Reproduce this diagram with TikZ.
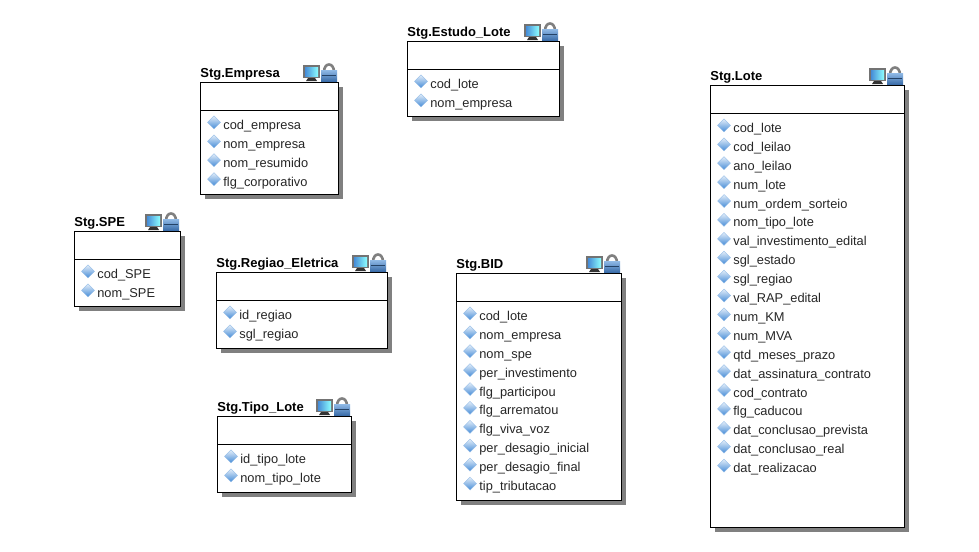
\documentclass[tikz,border=0pt]{standalone}
\usepackage{fontspec}
\setmainfont{Liberation Sans}
\usetikzlibrary{calc, positioning, shapes.geometric, shadows}
\definecolor{iconblue}{RGB}{70,140,215}
\definecolor{lockblue}{RGB}{60,110,170}
\tikzset{
  stgbox/.style={draw, fill=white, line width=0.45pt, anchor=north west, inner sep=0pt, outer sep=0pt,
    drop shadow={shadow xshift=0.1cm, shadow yshift=-0.1cm, fill=black!50, opacity=1}},
  stgtitle/.style={anchor=base west, inner sep=0pt, font=\bfseries\fontsize{7.4pt}{9pt}\selectfont},
  rowmark/.style={diamond, inner sep=0pt, outer sep=0pt, minimum size=0.26cm, draw=iconblue!60,
    line width=0.2pt, top color=iconblue!15, bottom color=iconblue},
  rowtext/.style={anchor=west, inner sep=0pt, yshift=-0.07cm, text height=5.5pt, text depth=1.5pt,
    text=black!85, font=\fontsize{7.3pt}{9pt}\selectfont},
  stgicons/.pic={
    \fill[black!80] (-32,-1) -- (-30,-4) -- (-23,-4) -- (-21,-1) -- cycle;
    \fill[black!55] (-35,-17) rectangle (-18,-4);
    \shade[left color=iconblue, right color=cyan!45] (-33,-15) rectangle (-20,-6);
    \draw[black!50, line width=1.5pt] (-14,-10) .. controls (-14,-20) and (-4,-20) .. (-4,-10);
    \shade[top color=iconblue!60, bottom color=lockblue] (-17,-12) rectangle (-1,-1);
    \fill[lockblue!60!black] (-16,-7.5) rectangle (-2,-6);
  }
}
% name, x, y, width, height, title, rows
\newcommand{\stgtable}[7]{
  \node (#1) [stgbox, minimum width=#4*0.02cm, minimum height=#5*0.02cm] at (#2,#3) {};
  \node (#1title) [stgtitle] at ($(#1.north west)+(0,-5)$) {#6};
  \draw[line width=0.45pt] ($(#1.north west)+(0,28)$) -- ($(#1.north east)+(0,28)$);
  \pic at (#1.north east) {stgicons};
  \foreach \rowname [count=\i] in {#7} {
    \node (#1mark\i) [rowmark] at ($(#1.north west)+(14,21.5+\i*18.9)$) {};
    \node (#1row\i) [rowtext, right=0.05cm of #1mark\i] {\rowname};
  }
}

\begin{document}
\begin{tikzpicture}[x=0.02cm, y=-0.02cm]
\useasboundingbox (0,0) rectangle (979,551);

\stgtable{Empresa}{200}{82}{138}{112}{Stg.Empresa}{cod\_empresa, nom\_empresa, nom\_resumido, flg\_corporativo}
\stgtable{EstudoLote}{407}{41}{152}{75}{Stg.Estudo\_Lote}{cod\_lote, nom\_empresa}
\stgtable{SPE}{74}{231}{106}{75}{Stg.SPE}{cod\_SPE, nom\_SPE}
\stgtable{RegiaoEletrica}{216}{272}{171}{76}{Stg.Regiao\_Eletrica}{id\_regiao, sgl\_regiao}
\stgtable{TipoLote}{217}{416}{134}{76}{Stg.Tipo\_Lote}{id\_tipo\_lote, nom\_tipo\_lote}
\stgtable{BID}{456}{273}{165}{227}{Stg.BID}{cod\_lote, nom\_empresa, nom\_spe, per\_investimento, flg\_participou,
  flg\_arrematou, flg\_viva\_voz, per\_desagio\_inicial, per\_desagio\_final, tip\_tributacao}
\stgtable{Lote}{710}{85}{194}{442}{Stg.Lote}{cod\_lote, cod\_leilao, ano\_leilao, num\_lote, num\_ordem\_sorteio,
  nom\_tipo\_lote, val\_investimento\_edital, sgl\_estado, sgl\_regiao, val\_RAP\_edital, num\_KM, num\_MVA,
  qtd\_meses\_prazo, dat\_assinatura\_contrato, cod\_contrato, flg\_caducou, dat\_conclusao\_prevista,
  dat\_conclusao\_real, dat\_realizacao}
\end{tikzpicture}
\end{document}
